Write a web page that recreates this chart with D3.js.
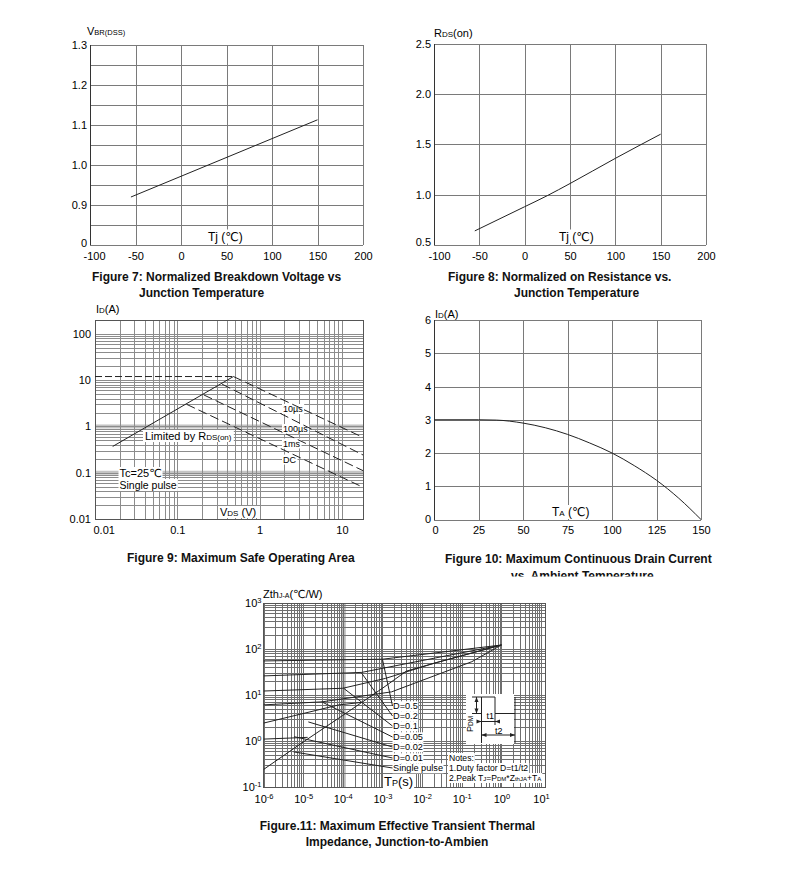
<!DOCTYPE html>
<html>
<head>
<meta charset="utf-8">
<script src="https://cdn.jsdelivr.net/npm/d3@7"></script>
<style>
body { margin: 0; background: #fff; }
svg { font-family: "Liberation Sans", Arial, "DejaVu Sans", sans-serif; }
.ax line { stroke: #7a7a7a; stroke-width: 1; shape-rendering: crispEdges; }
.ax text { font-size: 11px; font-family: "Liberation Sans", Arial, sans-serif; fill: #000; }
.lg line { stroke: #8a8a8a; stroke-width: 1; shape-rendering: crispEdges; }
.curve { fill: none; stroke: #222; stroke-width: 1; }
.title { font-weight: bold; font-size: 12px; fill: #111; }
.lbl { font-size: 11px; fill: #000; }
</style>
</head>
<body>
<script>
// ---- data ----
// Fig 7  normalized breakdown voltage vs Tj
var tempTicks = [-100, -50, 0, 50, 100, 150, 200];
var f7Temp = [-55, 150];
var f7Vbr = [0.92, 1.113];
var f7YGrid = [0.8, 0.85, 0.9, 0.95, 1.0, 1.05, 1.1, 1.15, 1.2, 1.25, 1.3];
var f7YTicks = [0.8, 0.9, 1.0, 1.1, 1.2, 1.3];
var f7YLabels = ["0", "0.9", "1.0", "1.1", "1.2", "1.3"];

// Fig 8  normalized Rds(on) vs Tj
var f8Temp = [-55, 0, 25, 50, 100, 150];
var f8Rds = [0.64, 0.88, 0.99, 1.11, 1.36, 1.60];
var f8YTicks = [0.5, 1.0, 1.5, 2.0, 2.5];
var f8YLabels = ["0.5", "1.0", "1.5", "2.0", "2.5"];

// Fig 9  safe operating area
var f9XTicks = [0.01, 0.1, 1, 10];
var f9XLabels = ["0.01", "0.1", "1", "10"];
var f9YTicks = [0.01, 0.1, 1, 10, 100];
var f9YLabels = ["0.01", "0.1", "1", "10", "100"];
var soaIdMax = 12;
var soaRdsV = [0.0164, 0.48];
var soaRdsI = [0.37, 12];
var soaPulse = ["10\u00b5s", "100\u00b5s", "1ms", "DC"];
var soaStartV = [0.48, 0.35, 0.21, 0.13];
var soaStartI = [12, 8.2, 4.8, 3.0];
var soaEndV = [18, 18, 18, 18];
var soaEndI = [0.58, 0.242, 0.111, 0.0485];

// Fig 10  max continuous drain current vs Ta
var f10XTicks = [0, 25, 50, 75, 100, 125, 150];
var f10YTicks = [0, 1, 2, 3, 4, 5, 6];
var f10Ta = [0, 25, 35, 50, 62.5, 75, 87.5, 100, 112.5, 125, 137.5, 150];
var f10Id = [3, 3, 2.99, 2.9, 2.76, 2.56, 2.3, 2.0, 1.62, 1.18, 0.64, 0];

// Fig 11  transient thermal impedance
var f11XTicks = [1e-6, 1e-5, 1e-4, 1e-3, 1e-2, 1e-1, 1, 10];
var f11XExp = ["-6", "-5", "-4", "-3", "-2", "-1", "0", "1"];
var f11YTicks = [0.1, 1, 10, 100, 1000];
var f11YExp = ["-1", "0", "1", "2", "3"];
var zthLabels = ["D=0.5", "D=0.2", "D=0.1", "D=0.05", "D=0.02", "D=0.01", "Single pulse"];
var zthTime = [
  [1e-6, 1e-3, 1],
  [1e-6, 3e-4, 1],
  [1e-6, 1e-4, 1.2e-3, 2e-2, 1],
  [1e-6, 3e-5, 1.7e-3, 0.18, 1],
  [1e-6, 8e-5, 3e-4],
  [1e-6, 1.3e-5],
  [1e-6, 1e-5, 1e-4, 1e-3, 4e-3, 2e-2, 1]
];
var zthValue = [
  [55, 60, 122],
  [26, 31, 122],
  [12.2, 14, 23, 49, 122],
  [6.1, 7.1, 11.7, 53, 122],
  [2.45, 6.1, 6.9],
  [1.1, 1.2],
  [0.24, 0.95, 3.6, 14, 33, 49, 122]
];
var zthKneeT = [1e-3, 2.9e-4, 1.05e-4, 2.95e-5, 1.35e-5, 5.9e-6, 5.75e-6];
var zthKneeZ = [60, 31, 14, 7.1, 2.6, 1.24, 0.58];

// ---- drawing ----
var svg = d3.select("body").append("svg").attr("width", 790).attr("height", 894);

function labelFmt(vals, labels) {
  return function (d) {
    var i = vals.findIndex(function (v) { return Math.abs(v - d) < 1e-9; });
    return i < 0 ? "" : labels[i];
  };
}

function logMinors(lo, hi) {
  var out = [];
  for (var k = Math.floor(Math.log10(lo)); k <= Math.ceil(Math.log10(hi)); k++)
    for (var m = 1; m < 10; m++) {
      var v = m * Math.pow(10, k);
      if (v >= lo * 0.999 && v <= hi * 1.001) out.push(v);
    }
  return out;
}

// linear grid chart; firstDx nudges the leftmost x label, firstDy the lowest y label
function linFrame(x, y, xTicks, yGrid, yFmt, firstDx, firstDy) {
  var xr = x.range(), yr = y.range();
  var g = svg.append("g");
  var gx = g.append("g").attr("class", "ax").attr("transform", "translate(0," + yr[0] + ")")
    .call(d3.axisBottom(x).tickValues(xTicks).tickSize(-(yr[0] - yr[1])).tickPadding(7)
      .tickFormat(function (d) { return String(d); }));
  var gy = g.append("g").attr("class", "ax").attr("transform", "translate(" + xr[0] + ",0)")
    .call(d3.axisLeft(y).tickValues(yGrid).tickSize(-(xr[1] - xr[0])).tickPadding(3).tickFormat(yFmt));
  gx.select(".tick text").attr("dx", firstDx || 0);
  gy.select(".tick text").attr("transform", "translate(0," + (firstDy || 0) + ")");
  g.selectAll(".domain").remove();
  g.append("line").attr("x1", xr[0]).attr("x2", xr[0]).attr("y1", yr[1]).attr("y2", yr[0])
    .attr("stroke", "#333").attr("shape-rendering", "crispEdges");
  return g;
}

function logFrame(x, y, gridColor) {
  var xr = x.range(), yr = y.range();
  var g = svg.append("g").attr("class", "lg");
  g.append("g").attr("transform", "translate(0," + yr[0] + ")")
    .call(d3.axisBottom(x).tickValues(logMinors(x.domain()[0], x.domain()[1]))
      .tickSize(-(yr[0] - yr[1])).tickFormat(""));
  g.append("g").attr("transform", "translate(" + xr[0] + ",0)")
    .call(d3.axisLeft(y).tickValues(logMinors(y.domain()[0], y.domain()[1]))
      .tickSize(-(xr[1] - xr[0])).tickFormat(""));
  g.selectAll(".domain").remove();
  g.selectAll("line").style("stroke", gridColor);
  g.append("rect").attr("x", xr[0]).attr("y", yr[1]).attr("width", xr[1] - xr[0])
    .attr("height", yr[0] - yr[1]).attr("fill", "none").attr("stroke", "#555")
    .attr("shape-rendering", "crispEdges");
  return g;
}

function richText(x, y, parts, cls) {
  var t = svg.append("text").attr("x", x).attr("y", y).attr("class", cls || "lbl");
  parts.forEach(function (p) {
    var s = t.append("tspan").text(p[0]);
    if (p[1]) s.attr("font-size", p[1]);
  });
  return t;
}

function whiteBg(t, pad) {
  var b = t.node().getBBox();
  svg.insert("rect", function () { return t.node(); })
    .attr("x", b.x - pad).attr("y", b.y).attr("width", b.width + 2 * pad).attr("height", b.height)
    .attr("fill", "#fff");
  return t;
}

var line = function (x, y) {
  return d3.line().x(function (d) { return x(d[0]); }).y(function (d) { return y(d[1]); });
};

// ===== Figure 7 =====
var x7 = d3.scaleLinear().domain([-100, 200]).range([90, 363]);
var y7 = d3.scaleLinear().domain([0.8, 1.3]).range([245, 45]);
linFrame(x7, y7, tempTicks, f7YGrid, labelFmt(f7YTicks, f7YLabels), 4, -2);
svg.append("path").datum(d3.zip(f7Temp, f7Vbr)).attr("class", "curve").attr("d", line(x7, y7));
richText(87, 35, [["V", "11px"], ["BR(DSS)", "7.5px"]]);
whiteBg(richText(208, 240.5, [["Tj (\u2103)", "12px"]]), 1);
richText(92, 281, [["Figure 7: Normalized Breakdown Voltage vs"]], "title");
richText(139, 297, [["Junction Temperature"]], "title");

// ===== Figure 8 =====
var x8 = d3.scaleLinear().domain([-100, 200]).range([434, 706]);
var y8 = d3.scaleLinear().domain([0.5, 2.5]).range([245, 43.5]);
linFrame(x8, y8, tempTicks, f8YTicks, labelFmt(f8YTicks, f8YLabels), 5, -3);
svg.append("path").datum(d3.zip(f8Temp, f8Rds)).attr("class", "curve")
  .attr("d", line(x8, y8).curve(d3.curveMonotoneX));
richText(434, 37, [["R", "11px"], ["DS", "8px"], ["(on)", "11px"]]);
whiteBg(richText(559, 240.5, [["Tj (\u2103)", "12px"]]), 1);
richText(448, 281, [["Figure 8: Normalized on Resistance vs."]], "title");
richText(514, 297, [["Junction Temperature"]], "title");

// ===== Figure 9 =====
var x9 = d3.scaleLog().domain([0.01, 18]).range([95, 363]);
var y9 = d3.scaleLog().domain([0.01, 200]).range([519, 320]);
[1, 0.1].forEach(function (v) {
  svg.append("rect").attr("x", 95).attr("width", 268).attr("y", y9(v) - 2).attr("height", 4).attr("fill", "#c4c4c4");
});
logFrame(x9, y9, "#8c8c8c");
var ax9 = svg.append("g").attr("class", "ax");
var ax9x = ax9.append("g").attr("transform", "translate(0,519)")
  .call(d3.axisBottom(x9).tickValues(f9XTicks).tickSize(0).tickPadding(7).tickFormat(labelFmt(f9XTicks, f9XLabels)));
ax9.append("g").attr("transform", "translate(95,0)")
  .call(d3.axisLeft(y9).tickValues(f9YTicks).tickSize(0).tickPadding(4).tickFormat(labelFmt(f9YTicks, f9YLabels)));
ax9.selectAll(".domain").remove();
ax9x.select(".tick text").attr("text-anchor", "start").attr("x", -2);

whiteBg(richText(145, 440, [["Limited by R", "11px"], ["DS(on)", "8px"]]), 2);
whiteBg(richText(119.5, 477, [["Tc=25\u2103", "11px"]]), 1);
whiteBg(richText(119.5, 489, [["Single pulse", "10.5px"]]), 1);
var soaLabY = [412, 432, 446.5, 462.5];
soaPulse.forEach(function (p, i) {
  whiteBg(richText(283, soaLabY[i], [[p, "9px"]]), 1);
});
whiteBg(richText(220, 516, [["V", "11px"], ["DS", "8px"], [" (V)", "11px"]]), 1);
richText(96, 313, [["I", "11px"], ["D", "8px"], ["(A)", "11px"]]);

var l9 = line(x9, y9);
svg.append("path").datum([[0.01, soaIdMax], [soaRdsV[1], soaIdMax]]).attr("class", "curve")
  .attr("stroke-dasharray", "7,3").attr("d", l9);
svg.append("path").datum(d3.zip(soaRdsV, soaRdsI)).attr("class", "curve").attr("d", l9);
soaPulse.forEach(function (p, i) {
  svg.append("path").datum([[soaStartV[i], soaStartI[i]], [soaEndV[i], soaEndI[i]]])
    .attr("class", "curve").attr("stroke-dasharray", "9,4").attr("d", l9);
});
richText(127, 561.5, [["Figure 9: Maximum Safe Operating Area"]], "title");

// ===== Figure 10 =====
var x10 = d3.scaleLinear().domain([0, 150]).range([434, 701]);
var y10 = d3.scaleLinear().domain([0, 6]).range([519.5, 320]);
linFrame(x10, y10, f10XTicks, f10YTicks, function (d) { return String(d); }, 1, -1);
whiteBg(richText(552, 516, [["T", "12px"], ["A", "8px"], [" (\u2103)", "12px"]]), 1);
svg.append("path").datum(d3.zip(f10Ta, f10Id)).attr("class", "curve")
  .attr("d", line(x10, y10).curve(d3.curveMonotoneX));
richText(435, 318, [["I", "11px"], ["D", "8px"], ["(A)", "11px"]]);
richText(445, 562.5, [["Figure 10: Maximum Continuous Drain Current"]], "title");
svg.append("clipPath").attr("id", "cut10").append("rect").attr("x", 400).attr("y", 565).attr("width", 390).attr("height", 11.5);
richText(511, 580, [["vs. Ambient Temperature"]], "title").attr("clip-path", "url(#cut10)");

// ===== Figure 11 =====
var x11 = d3.scaleLog().domain([1e-6, 12.6]).range([263.5, 545]);
var y11 = d3.scaleLog().domain([0.1, 1000]).range([787, 603]);
svg.append("rect").attr("x", x11(1e-4) - 1).attr("y", 603).attr("width", 4).attr("height", 184).attr("fill", "#bdbdbd");
logFrame(x11, y11, "#6f6f6f");
var ax11 = svg.append("g").attr("class", "ax");
ax11.append("g").attr("transform", "translate(0,787)")
  .call(d3.axisBottom(x11).tickValues(f11XTicks).tickSize(0).tickPadding(8).tickFormat(labelFmt(f11XTicks, f11XExp)));
ax11.append("g").attr("transform", "translate(263.5,0)")
  .call(d3.axisLeft(y11).tickValues(f11YTicks).tickSize(0).tickPadding(2).tickFormat(labelFmt(f11YTicks, f11YExp)));
ax11.selectAll(".domain").remove();
ax11.selectAll(".tick text").each(function () {
  var t = d3.select(this), e = t.text();
  t.text("10");
  t.append("tspan").attr("dy", "-0.5em").attr("font-size", "7.5px").text(e);
});

// pulse inset
var ins = svg.append("g").attr("stroke", "#222").attr("fill", "none").attr("stroke-width", 1);
svg.insert("rect", function () { return ins.node(); }).attr("x", 466).attr("y", 694).attr("width", 48).attr("height", 50).attr("fill", "#fff");
ins.append("path").attr("d", "M481.5,743V697H495V713.5H515V697");
ins.append("path").attr("d", "M495,713.5V725M515,713.5V743M472,697H481.5M472,713.5H481.5M476.5,697V713.5");
ins.append("path").attr("d", "M478,721.5H500M481.5,735H515");
var arrows = svg.append("g").attr("fill", "#222");
[[476.5, 697, -1], [476.5, 713.5, 1]].forEach(function (a) {
  arrows.append("path").attr("d", "M" + a[0] + "," + a[1] + "l-2," + (-a[2] * 5) + "h4z");
});
[[481.5, 721.5, 1], [495, 721.5, -1], [481.5, 735, -1], [515, 735, 1]].forEach(function (a) {
  arrows.append("path").attr("d", "M" + a[0] + "," + a[1] + "l" + (-a[2] * 5) + ",-2v4z");
});
richText(486.5, 719, [["t1", "9px"]]);
richText(495, 733.5, [["t2", "9px"]]);
richText(0, 0, [["P", "9px"], ["DM", "6.5px"]]).attr("transform", "translate(473,732) rotate(-90)");

// labels and leaders
var labY = [706, 716, 726, 737, 747, 758, 768];
var l11 = line(x11, y11);
svg.append("clipPath").attr("id", "clip11").append("rect").attr("x", 263.5).attr("y", 603).attr("width", 281.5).attr("height", 184);
zthLabels.forEach(function (lab, i) {
  whiteBg(richText(393, labY[i] + 3.3, [[lab, "9.2px"]]), 0.5);
});
zthLabels.forEach(function (lab, i) {
  svg.append("path").datum(d3.zip(zthTime[i], zthValue[i])).attr("class", "curve")
    .attr("clip-path", "url(#clip11)").attr("d", l11);
  svg.append("line").attr("x1", x11(zthKneeT[i])).attr("y1", y11(zthKneeZ[i]))
    .attr("x2", 392.5).attr("y2", labY[i]).attr("stroke", "#222");
});

var notes = [
  [["Notes:", "8.6px"]],
  [["1.Duty factor D=t1/t2", "8.6px"]],
  [["2.Peak T", "8.6px"], ["J", "6px"], ["=P", "8.6px"], ["DM", "6px"], ["*Z", "8.6px"], ["thJA", "6px"], ["+T", "8.6px"], ["A", "6px"]]
];
[761, 771, 781].forEach(function (yy, i) { whiteBg(richText(449, yy, notes[i]), 1); });

whiteBg(richText(384, 786, [["T", "13px"], ["P", "9px"], ["(s)", "13px"]]), 1);
richText(263, 598, [["Zth", "11px"], ["J-A", "7px"], ["(\u2103/W)", "11px"]]);
richText(397.5, 830, [["Figure.11: Maximum Effective Transient Thermal"]], "title").attr("text-anchor", "middle");
richText(397, 846, [["Impedance, Junction-to-Ambien"]], "title").attr("text-anchor", "middle");
</script>
</body>
</html>
